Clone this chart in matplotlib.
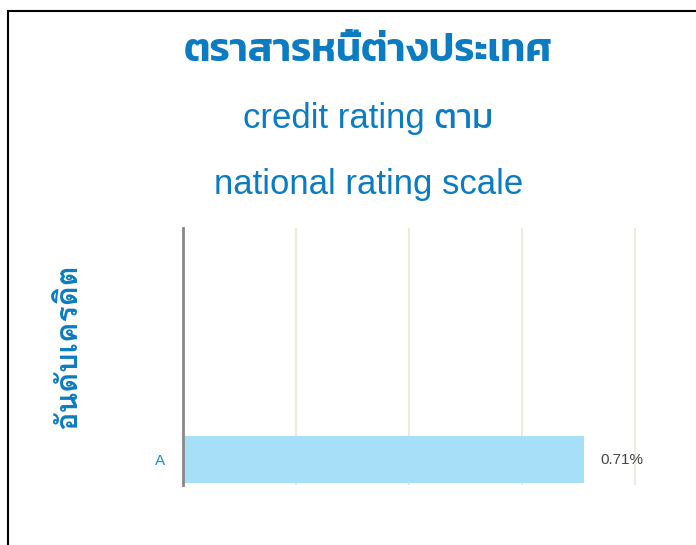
import matplotlib
matplotlib.use("Agg")
import matplotlib.pyplot as plt

# data
categories = ["A"]
values = [0.71]
value_labels = ["0.71%"]
title_lines = ["ตราสารหนี้ต่างประเทศ", "credit rating ตาม", "national rating scale"]
y_title = "อันดับเครดิต"

# latin from the Arial-like face, Thai from a loopless (title) or looped (axis) face
title_font = ["Liberation Sans", "Kanit", "DejaVu Sans"]
label_font = ["Liberation Sans", "Loma", "DejaVu Sans"]
plt.rcParams["font.family"] = title_font

blue = "#0b7cc1"

fig = plt.figure(figsize=(6.96, 5.45), dpi=100)
ax = fig.add_axes([0.263, 0.110, 0.737, 0.472])

ax.barh(range(len(categories)), values, height=1.0, color="#a8dff8")
for i, (v, lab) in enumerate(zip(values, value_labels)):
    ax.text(v + 0.028, i, lab, va="center", ha="left", fontsize=11, color="#444444")

ax.set_xlim(0, 0.908)
ax.set_ylim(-0.54, 4.93)
ax.set_xticks([0.2, 0.4, 0.6, 0.8])
ax.set_xticklabels([])
ax.set_yticks(range(len(categories)))
ax.set_yticklabels(categories, fontsize=11, color="#1a8fd0")
ax.tick_params(length=0, pad=13)
ax.grid(axis="x", color="#eeeae0", lw=1.5)
ax.set_axisbelow(True)
for s in ["top", "right", "bottom"]:
    ax.spines[s].set_visible(False)
ax.spines["left"].set_color("#888888")
ax.spines["left"].set_linewidth(2)

fig.text(0.529, 0.908, title_lines[0], ha="center", va="center", fontsize=29,
         fontweight=600, color=blue)
fig.text(0.529, 0.782, title_lines[1], ha="center", va="center", fontsize=25, color=blue)
fig.text(0.529, 0.661, title_lines[2], ha="center", va="center", fontsize=25, color=blue)
fig.text(0.098, 0.365, y_title, ha="center", va="center", rotation=90, fontsize=22,
         fontweight="bold", color=blue, family=label_font)

# frame round the chart, cut off at right and bottom
fig.add_artist(plt.Rectangle((0.0122, -0.1), 1.2, 0.979 + 0.1, transform=fig.transFigure,
                             fill=False, ec="black", lw=1.5))

fig.savefig("out.png", dpi=100)
